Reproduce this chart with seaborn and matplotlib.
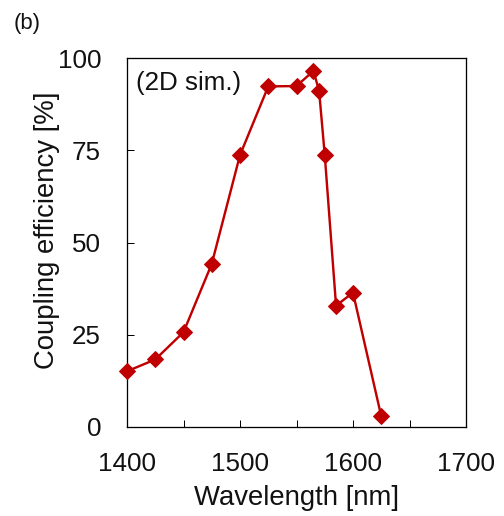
import matplotlib
matplotlib.use("Agg")
import matplotlib.pyplot as plt
import seaborn as sns
import pandas as pd
from matplotlib.ticker import MultipleLocator

wavelength = [1400, 1425, 1450, 1475, 1500, 1525, 1550, 1565, 1570, 1575, 1585, 1600, 1625]
efficiency = [15.1, 18.3, 25.7, 44.2, 73.7, 92.3, 92.4, 96.5, 91.1, 73.7, 32.9, 36.4, 2.9]
x_ticks = [1400, 1500, 1600, 1700]
y_ticks = [0, 25, 50, 75, 100]

sns.set_style("white")
plt.rcParams['font.family'] = ['Liberation Sans', 'DejaVu Sans']

df = pd.DataFrame({"Wavelength": wavelength, "Efficiency": efficiency})

fig = plt.figure(figsize=(504 / 72, 516 / 72), dpi=72)
ax = fig.add_axes([127 / 504, 1 - 427 / 516, 339 / 504, 369 / 516])

sns.lineplot(data=df, x="Wavelength", y="Efficiency", ax=ax, color="#C00000",
             linewidth=2.4, marker="D", markersize=11.5, markeredgecolor="#C00000",
             markeredgewidth=1, sort=False, zorder=3, clip_on=False)

ax.set_xlim(1400, 1700)
ax.set_ylim(0, 100)
ax.set_xticks(x_ticks)
ax.set_yticks(y_ticks)
ax.xaxis.set_minor_locator(MultipleLocator(50))
ax.tick_params(axis="both", which="both", direction="in", length=7, width=1,
               colors="black", labelsize=26, top=False, right=False,
               bottom=True, left=True)
ax.tick_params(axis="x", which="major", pad=25)
ax.tick_params(axis="y", which="major", pad=26)
ax.tick_params(axis="y", which="minor", left=False)
ax.tick_params(axis="both", labelcolor="#111111")

for s in ax.spines.values():
    s.set_visible(True)
    s.set_color("black")
    s.set_linewidth(1.3)

ax.set_xlabel("Wavelength [nm]", fontsize=27.5, color="#111111")
ax.set_ylabel("Coupling efficiency [%]", fontsize=27.5, color="#111111")
ax.xaxis.set_label_coords((297 - 127) / 339, -(498 - 427) / 369)
ax.yaxis.set_label_coords(-(127 - 47) / 339, (427 - 230) / 369)
ax.xaxis.label.set_va("center")
ax.yaxis.label.set_va("center")

ax.text(136 / 504, 1 - 83 / 516, "(2D sim.)", transform=fig.transFigure,
        fontsize=26, ha="left", va="center", color="#111111")
fig.text(14 / 504, 1 - 23 / 516, "(b)", fontsize=22, ha="left", va="center",
         color="#111111")

fig.savefig("out.png", dpi=72)
